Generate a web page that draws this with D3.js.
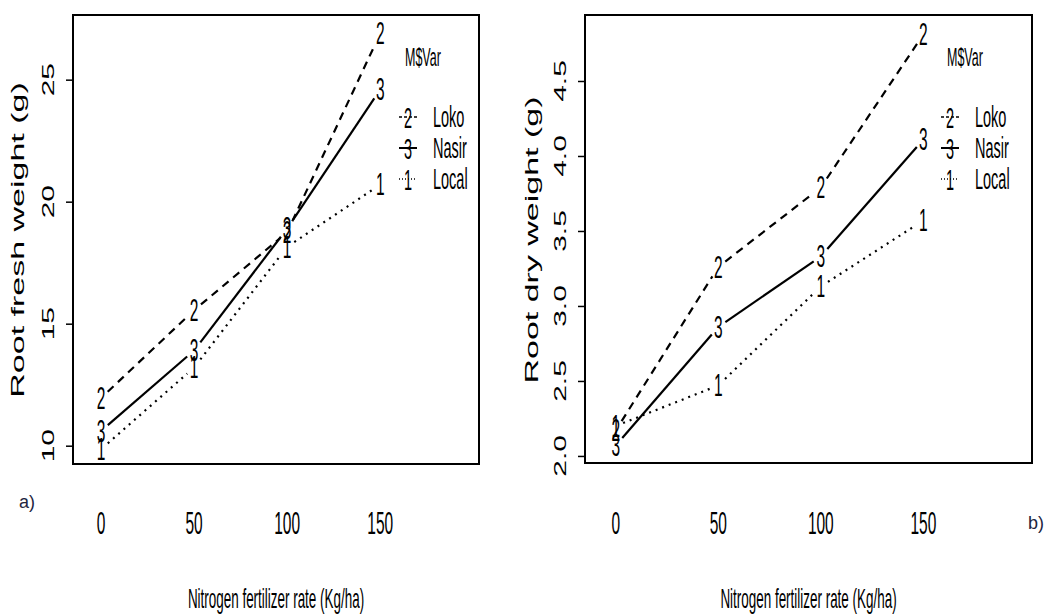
<!DOCTYPE html>
<html>
<head>
<meta charset="utf-8">
<script src="https://cdn.jsdelivr.net/npm/d3@7"></script>
<style>
  html, body { margin: 0; padding: 0; background: #fff; }
  svg { display: block; }
  text { font-family: "Liberation Sans", Arial, sans-serif; fill: #000; }
</style>
</head>
<body>
<svg id="chart" width="1050" height="615"></svg>
<script>
// ---------------- data ----------------
const nitrogenRates = [0, 50, 100, 150];
const xTickLabels = ["0", "50", "100", "150"];
const varieties = ["Loko", "Nasir", "Local"];
const varietyCodes = ["2", "3", "1"];

// a) Root fresh weight (g)
const freshLoko  = [11.95, 15.55, 18.75, 26.9];
const freshNasir = [10.6, 13.9, 18.9, 24.6];
const freshLocal = [9.85, 13.2, 18.15, 20.7];
const freshTicks = [10, 15, 20, 25];

// b) Root dry weight (g)
const dryLoko  = [2.17, 3.26, 3.79, 4.81];
const dryNasir = [2.07, 2.86, 3.33, 4.11];
const dryLocal = [2.2, 2.47, 3.13, 3.57];
const dryTicks = [2.0, 2.5, 3.0, 3.5, 4.0, 4.5];

const xTitle = "Nitrogen fertilizer rate (Kg/ha)";
const legendTitle = "M$Var";

// ---------------- drawing ----------------
const svg = d3.select("#chart");
const SX = 0.5; // horizontal squeeze of the original figure
const dashes = { "Loko": "8,6", "Nasir": null, "Local": "2,5" };

function sText(g, x, y, str, size, opts = {}) {
  const rot = opts.rotate ? " rotate(-90)" : "";
  return g.append("text")
    .attr("transform", `translate(${x},${y}) scale(${opts.sx ?? SX},1)${rot}`)
    .attr("text-anchor", opts.anchor || "middle")
    .attr("dominant-baseline", "central")
    .style("font-size", size + "px")
    .text(str);
}

function panel(cfg) {
  const g = svg.append("g");
  const x = d3.scaleLinear().domain([-15, 203]).range([cfg.left, cfg.right]);
  const y = d3.scaleLinear().domain(cfg.yDomain).range([cfg.bottom, cfg.top]);

  // y axis ticks (outside, left)
  const yAxis = d3.axisLeft(y).tickValues(cfg.yTicks).tickSize(7).tickFormat("");
  const ya = g.append("g").attr("transform", `translate(${cfg.left},0)`).call(yAxis);
  ya.select(".domain").remove();
  ya.selectAll(".tick line").attr("stroke", "#000").attr("stroke-width", 1.5);
  cfg.yTicks.forEach(v => {
    sText(g, cfg.left - 25, y(v), cfg.yFormat(v), 30, { rotate: true, sx: 0.55 });
  });

  // x tick labels (no tick marks)
  nitrogenRates.forEach((r, i) => {
    sText(g, x(r), 523, xTickLabels[i], 31);
  });

  // box
  g.append("rect")
    .attr("x", cfg.left).attr("y", cfg.top)
    .attr("width", cfg.right - cfg.left).attr("height", cfg.bottom - cfg.top)
    .attr("fill", "none").attr("stroke", "#000").attr("stroke-width", 2);

  // series: lines with gaps around the labels (type "b")
  const gap = 15;
  cfg.series.forEach((vals, si) => {
    const name = varieties[si];
    const pts = nitrogenRates.map((r, i) => [x(r), y(vals[i])]);
    for (let i = 0; i < pts.length - 1; i++) {
      const [x0, y0] = pts[i], [x1, y1] = pts[i + 1];
      const dxo = (x1 - x0) / SX, dyo = y1 - y0;
      const L = Math.hypot(dxo, dyo);
      if (L <= 2 * gap) continue;
      const f = gap / L;
      g.append("line")
        .attr("x1", x0 + (x1 - x0) * f).attr("y1", y0 + (y1 - y0) * f)
        .attr("x2", x1 - (x1 - x0) * f).attr("y2", y1 - (y1 - y0) * f)
        .attr("stroke", "#000").attr("stroke-width", 2.2)
        .attr("stroke-dasharray", dashes[name]);
    }
    pts.forEach(p => sText(g, p[0], p[1], varietyCodes[si], 31));
  });

  // legend
  sText(g, cfg.legX - 3, 57, legendTitle, 25, { anchor: "start" });
  const legY = [117, 148, 179];
  varieties.forEach((name, i) => {
    g.append("line")
      .attr("x1", cfg.legX - 9).attr("x2", cfg.legX + 9)
      .attr("y1", legY[i]).attr("y2", legY[i])
      .attr("stroke", "#000").attr("stroke-width", name === "Nasir" ? 2 : 1.5)
      .attr("stroke-dasharray", name === "Loko" ? "3,2" : name === "Local" ? "1,2" : null);
    sText(g, cfg.legX, legY[i] + 1, varietyCodes[i], 29);
    sText(g, cfg.legX + 25, legY[i], name, 29, { anchor: "start" });
  });

  // axis titles
  sText(g, cfg.yTitleX, 240, cfg.yTitle, 34, { rotate: true, sx: 0.55 });
  sText(g, (cfg.left + cfg.right) / 2, 598, xTitle, 28, { sx: 0.48 });

  // panel letter
  g.append("text")
    .attr("x", cfg.letterX).attr("y", cfg.letterY)
    .attr("text-anchor", "middle").attr("dominant-baseline", "central")
    .style("font-size", "18px").style("fill", "#1d2540")
    .text(cfg.letter);
}

panel({
  left: 73, right: 479, top: 15, bottom: 464,
  yDomain: [9.25, 27.65], yTicks: freshTicks, yFormat: d3.format("d"),
  series: [freshLoko, freshNasir, freshLocal],
  yTitle: "Root fresh weight (g)", yTitleX: 18,
  legX: 408, letter: "a)", letterX: 27, letterY: 502
});

panel({
  left: 585, right: 1032, top: 15, bottom: 463,
  yDomain: [1.953, 4.94], yTicks: dryTicks, yFormat: d3.format(".1f"),
  series: [dryLoko, dryNasir, dryLocal],
  yTitle: "Root dry weight (g)", yTitleX: 532,
  legX: 950, letter: "b)", letterX: 1036, letterY: 523
});
</script>
</body>
</html>
